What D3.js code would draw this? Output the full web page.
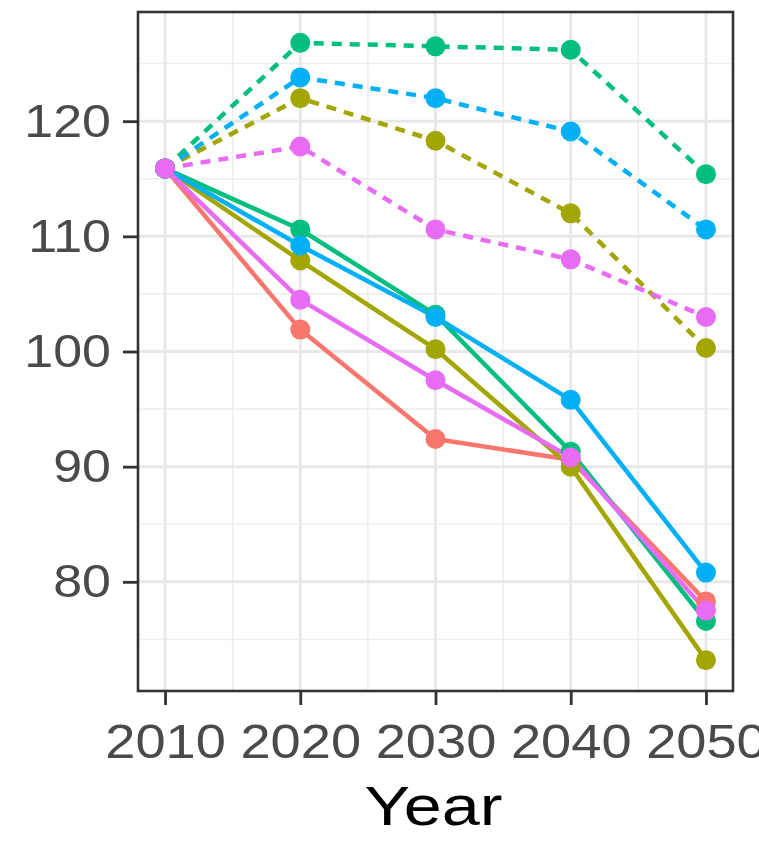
<!DOCTYPE html>
<html>
<head>
<meta charset="utf-8">
<script src="https://cdn.jsdelivr.net/npm/d3@7"></script>
<style>
  html, body { margin: 0; padding: 0; background: #fff; }
  svg { display: block; }
</style>
</head>
<body>
<svg id="chart" width="759" height="843"></svg>
<script>
// Years on the x axis
const years = [2010, 2020, 2030, 2040, 2050];

// Series names and colours
const seriesNames = ["A", "B", "C", "D", "E"];
const seriesColors = ["#F8766D", "#A3A500", "#00BF7D", "#00B0F6", "#E76BF3"];

// Solid-line trajectories
const solidA = [115.9, 101.9, 92.4, 90.6, 78.3];
const solidB = [115.9, 107.9, 100.2, 90.0, 73.2];
const solidC = [115.9, 110.6, 103.2, 91.3, 76.6];
const solidD = [115.9, 109.2, 103.0, 95.8, 80.8];
const solidE = [115.9, 104.5, 97.5, 90.8, 77.5];

// Dashed-line trajectories (no dashed line for A)
const dashedB = [115.9, 122.0, 118.3, 112.0, 100.3];
const dashedC = [115.9, 126.8, 126.5, 126.2, 115.4];
const dashedD = [115.9, 123.8, 122.0, 119.1, 110.6];
const dashedE = [115.9, 117.8, 110.6, 108.0, 103.0];

// Axis ticks
const yTicks = [80, 90, 100, 110, 120];
const yMinor = [75, 85, 95, 105, 115, 125];
const xTicks = [2010, 2020, 2030, 2040, 2050];
const xMinor = [2015, 2025, 2035, 2045];
const xTitle = "Year";

const groups = [
  { name: "A", color: seriesColors[0], dashed: false, values: solidA },
  { name: "B", color: seriesColors[1], dashed: false, values: solidB },
  { name: "C", color: seriesColors[2], dashed: false, values: solidC },
  { name: "D", color: seriesColors[3], dashed: false, values: solidD },
  { name: "E", color: seriesColors[4], dashed: false, values: solidE },
  { name: "B", color: seriesColors[1], dashed: true, values: dashedB },
  { name: "C", color: seriesColors[2], dashed: true, values: dashedC },
  { name: "D", color: seriesColors[3], dashed: true, values: dashedD },
  { name: "E", color: seriesColors[4], dashed: true, values: dashedE }
];

// Panel geometry
const panel = { left: 138, right: 733, top: 12, bottom: 691 };

// Domains expanded by 5% each side
const allVals = groups.flatMap(g => g.values);
const yMin = d3.min(allVals), yMax = d3.max(allVals);
const yPad = (yMax - yMin) * 0.05;
const xPad = (d3.max(years) - d3.min(years)) * 0.05;

const x = d3.scaleLinear()
  .domain([d3.min(years) - xPad, d3.max(years) + xPad])
  .range([panel.left, panel.right]);
const y = d3.scaleLinear()
  .domain([yMin - yPad, yMax + yPad])
  .range([panel.bottom, panel.top]);

const svg = d3.select("#chart");
const FONT = "'Liberation Sans', Arial, Helvetica, sans-serif";
const STRETCH = 1.13;

// Panel background and grid
const grid = svg.append("g");
grid.append("rect")
  .attr("x", panel.left).attr("y", panel.top)
  .attr("width", panel.right - panel.left)
  .attr("height", panel.bottom - panel.top)
  .attr("fill", "#fff");

grid.selectAll(".yminor").data(yMinor).join("line")
  .attr("x1", panel.left).attr("x2", panel.right)
  .attr("y1", d => y(d)).attr("y2", d => y(d))
  .attr("stroke", "#EDEDED").attr("stroke-width", 1.5);
grid.selectAll(".xminor").data(xMinor).join("line")
  .attr("y1", panel.top).attr("y2", panel.bottom)
  .attr("x1", d => x(d)).attr("x2", d => x(d))
  .attr("stroke", "#EDEDED").attr("stroke-width", 1.5);
grid.selectAll(".ymajor").data(yTicks).join("line")
  .attr("x1", panel.left).attr("x2", panel.right)
  .attr("y1", d => y(d)).attr("y2", d => y(d))
  .attr("stroke", "#E8E8E8").attr("stroke-width", 3);
grid.selectAll(".xmajor").data(xTicks).join("line")
  .attr("y1", panel.top).attr("y2", panel.bottom)
  .attr("x1", d => x(d)).attr("x2", d => x(d))
  .attr("stroke", "#E8E8E8").attr("stroke-width", 3);

// Lines
const line = d3.line()
  .x((d, i) => x(years[i]))
  .y(d => y(d));

const plot = svg.append("g");
plot.selectAll("path.series").data(groups).join("path")
  .attr("class", "series")
  .attr("d", g => line(g.values))
  .attr("fill", "none")
  .attr("stroke", g => g.color)
  .attr("stroke-width", 4.5)
  .attr("stroke-linejoin", "round")
  .attr("stroke-dasharray", g => g.dashed ? "10,8" : null);

// Points
groups.forEach(g => {
  plot.append("g").selectAll("circle").data(g.values).join("circle")
    .attr("cx", (d, i) => x(years[i]))
    .attr("cy", d => y(d))
    .attr("r", 10)
    .attr("fill", g.color);
});

// Panel border
svg.append("rect")
  .attr("x", panel.left).attr("y", panel.top)
  .attr("width", panel.right - panel.left)
  .attr("height", panel.bottom - panel.top)
  .attr("fill", "none")
  .attr("stroke", "#333333").attr("stroke-width", 2.6);

// Axes
const yAxis = svg.append("g")
  .attr("transform", `translate(${panel.left},0)`)
  .call(d3.axisLeft(y).tickValues(yTicks).tickSize(15).tickFormat(d3.format("d")));
yAxis.select(".domain").remove();
yAxis.selectAll(".tick line").attr("stroke", "#333333").attr("stroke-width", 2.8);
yAxis.selectAll(".tick text")
  .attr("x", null).attr("dy", null)
  .attr("transform", `translate(-27,15) scale(${STRETCH},1)`)
  .attr("fill", "#4A4A4A")
  .style("font-family", FONT)
  .style("font-size", "46px");

const xAxis = svg.append("g")
  .attr("transform", `translate(0,${panel.bottom})`)
  .call(d3.axisBottom(x).tickValues(xTicks).tickSize(14).tickFormat(d3.format("d")));
xAxis.select(".domain").remove();
xAxis.selectAll(".tick line").attr("stroke", "#333333").attr("stroke-width", 2.8);
xAxis.selectAll(".tick text")
  .attr("y", null).attr("dy", null)
  .attr("transform", `translate(0,67) scale(${STRETCH},1)`)
  .attr("fill", "#4A4A4A")
  .style("font-family", FONT)
  .style("font-size", "48px");

// Axis title
svg.append("text")
  .attr("transform", `translate(${(panel.left + panel.right) / 2 - 2},825) scale(1.22,1)`)
  .attr("text-anchor", "middle")
  .attr("fill", "#000")
  .style("font-family", FONT)
  .style("font-size", "56px")
  .text(xTitle);
</script>
</body>
</html>
